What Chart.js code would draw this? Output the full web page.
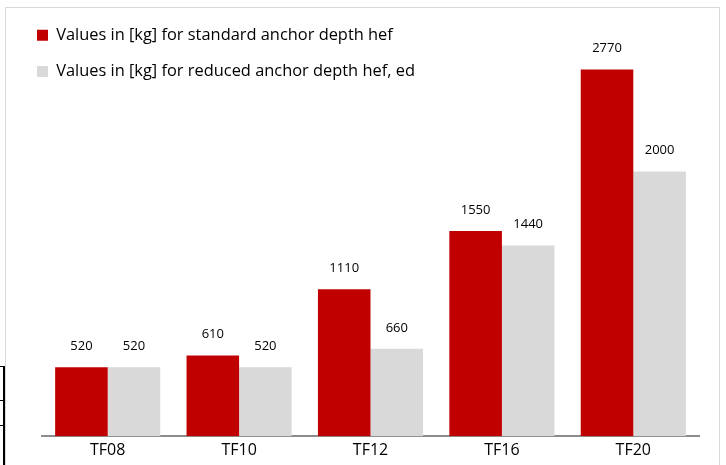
<!DOCTYPE html>
<html>
<head>
<meta charset="utf-8">
<script src="https://cdn.jsdelivr.net/npm/chart.js@4/dist/chart.umd.min.js"></script>
<style>
  html, body { margin: 0; padding: 0; background: #fff; }
  #wrap { position: relative; width: 726px; height: 465px; overflow: hidden; }
  #frame { position: absolute; left: 5px; top: 7px; width: 715px; height: 480px; border: 1px solid #d9d9d9; box-sizing: border-box; }
  canvas { position: absolute; left: 0; top: 0; }
  .tl { position: absolute; background: #000; }
</style>
</head>
<body>
<div id="wrap">
  <div id="frame"></div>
  <div class="tl" style="left:0;top:366px;width:4px;height:1px"></div>
  <div class="tl" style="left:0;top:400px;width:4px;height:1px"></div>
  <div class="tl" style="left:0;top:425px;width:4px;height:1px"></div>
  <div class="tl" style="left:3px;top:366px;width:1.5px;height:100px"></div>
  <canvas id="c" width="726" height="465"></canvas>
</div>
<script>
const categories = ["TF08", "TF10", "TF12", "TF16", "TF20"];
const standardDepth = [520, 610, 1110, 1550, 2770];
const reducedDepth = [520, 520, 660, 1440, 2000];
const seriesNames = [
  "Values in [kg] for standard anchor depth hef",
  "Values in [kg] for reduced anchor depth hef, ed"
];

const FONT = "'Open Sans'";

const valueLabels = {
  id: 'valueLabels',
  afterDatasetsDraw(chart) {
    const ctx = chart.ctx;
    ctx.save();
    ctx.font = "13px " + FONT;
    ctx.fillStyle = "#000";
    ctx.textAlign = "center";
    ctx.textBaseline = "middle";
    chart.data.datasets.forEach((ds, i) => {
      chart.getDatasetMeta(i).data.forEach((bar, j) => {
        ctx.fillText(String(ds.data[j]), bar.x, bar.y - 21);
      });
    });
    ctx.restore();
  }
};

const legendShift = {
  id: 'legendShift',
  afterLayout(chart) {
    const l = chart.legend;
    if (!l) return;
    const dx = 37 - (l.left + l.options.labels.padding);
    l.left += dx; l.right += dx;
    l.top += 7; l.bottom += 7;
  }
};

new Chart(document.getElementById('c'), {
  type: 'bar',
  data: {
    labels: categories,
    datasets: [
      { label: seriesNames[0], data: standardDepth, backgroundColor: '#C00000', borderWidth: 0 },
      { label: seriesNames[1], data: reducedDepth, backgroundColor: '#D9D9D9', borderWidth: 0 }
    ]
  },
  options: {
    responsive: false,
    animation: false,
    devicePixelRatio: 1,
    layout: { padding: { left: 42, right: 27, top: 6, bottom: 0 } },
    datasets: { bar: { categoryPercentage: 0.8, barPercentage: 1.0 } },
    plugins: {
      legend: {
        position: 'chartArea',
        align: 'start',
        labels: {
          boxWidth: 11, boxHeight: 11, padding: 20,
          color: '#000',
          font: { family: FONT, size: 16.4 }
        }
      },
      tooltip: { enabled: false }
    },
    scales: {
      x: {
        grid: { display: false, drawTicks: false },
        border: { display: true, color: '#8c8c8c', width: 2 },
        ticks: { color: '#000', font: { family: FONT, size: 16, lineHeight: 0.8 }, padding: 8 }
      },
      y: {
        display: false,
        min: 0, max: 3250
      }
    }
  },
  plugins: [valueLabels, legendShift]
});
</script>
</body>
</html>
